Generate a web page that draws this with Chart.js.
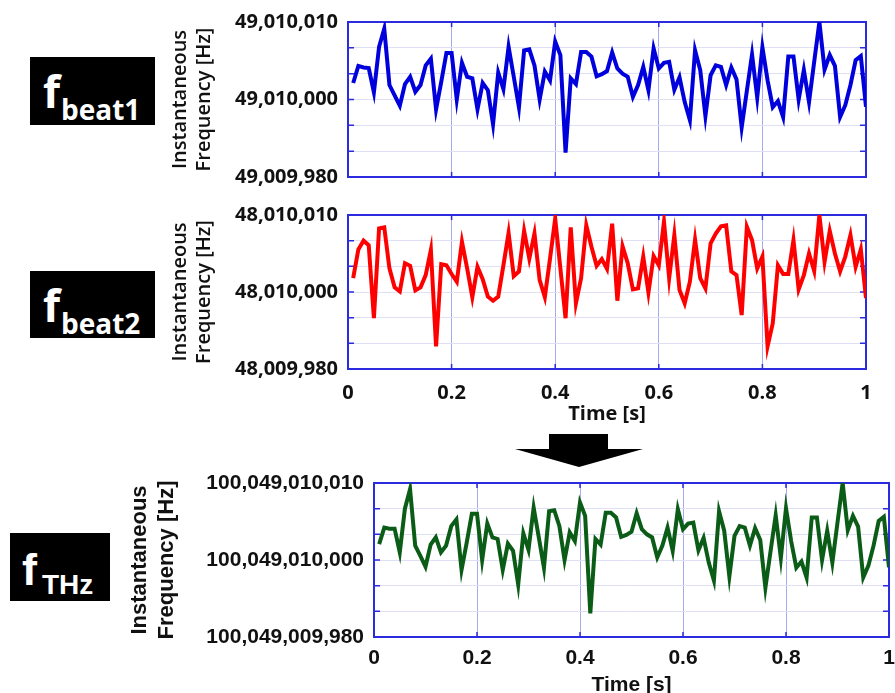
<!DOCTYPE html>
<html>
<head>
<meta charset="utf-8">
<script src="https://cdn.jsdelivr.net/npm/chart.js@4.4.1/dist/chart.umd.min.js"></script>
<style>
  body { margin: 0; width: 895px; height: 693px; background: #fff; position: relative; overflow: hidden; }
  canvas { position: absolute; }
  .tag { position: absolute; background: #000; color: #fff; font-weight: 700; }
  .tag span { position: absolute; line-height: 1; white-space: nowrap; }
  .calibri { font-family: "Open Sans", sans-serif; }
  .arial { font-family: "Liberation Sans", Arial, sans-serif; }
  #arrowBody { position: absolute; left: 549px; top: 434px; width: 59px; height: 16px; background: #000; }
  #arrowHead { position: absolute; left: 515px; top: 449px; width: 0; height: 0;
    border-left: 64px solid transparent; border-right: 64px solid transparent; border-top: 18px solid #000; }
</style>
</head>
<body>

<div class="tag calibri" style="left:30px;top:57px;width:125px;height:68px">
  <span style="left:13px;top:12px;font-size:44px">f</span>
  <span style="left:31px;top:38px;font-size:28px">beat1</span>
</div>
<div class="tag calibri" style="left:30px;top:271px;width:125px;height:67px">
  <span style="left:13px;top:12px;font-size:44px">f</span>
  <span style="left:31px;top:38px;font-size:28px">beat2</span>
</div>
<div class="tag arial" style="left:10px;top:533px;width:100px;height:68px">
  <span style="left:12px;top:14px;font-size:45px">f</span>
  <span style="left:32px;top:38px;font-size:28px">THz</span>
</div>

<div id="arrowBody"></div>
<div id="arrowHead"></div>

<canvas id="beat1" width="745" height="192" style="left:150px;top:0px"></canvas>
<canvas id="beat2" width="745" height="234" style="left:150px;top:192px"></canvas>
<canvas id="thz" width="775" height="230" style="left:120px;top:468px"></canvas>

<script>
// offsets from the centre line, 5 per grid step, one sample every 10 ms
const beat1Offset = [
  3.2, 6.5, 6.2, 6.1, 1.4, 10.2, 13.7, 2.8, 0.8, -1.2,
  3.0, 4.4, 1.5, 2.8, 6.6, 7.9, -1.9, 3.4, 9.0, 9.0,
  0.0, 7.1, 4.4, 4.1, -1.9, 3.2, 1.8, -4.8, 5.2, 2.0,
  10.2, 4.4, -1.5, 9.5, 9.7, 6.6, 0.0, 5.4, 3.7, 11.2,
  8.6, -10.3, 4.1, 3.0, 9.2, 9.2, 8.3, 4.5, 4.9, 5.5,
  9.1, 6.0, 5.0, 4.4, 0.5, 2.8, 6.3, 1.8, 9.9, 6.0,
  7.1, 7.3, 1.9, 4.3, -0.5, -4.0, 9.5, 5.7, -3.2, 4.7,
  6.6, 6.3, 2.8, 6.2, 3.9, -5.4, 1.7, 8.7, 0.4, 10.1,
  3.7, -1.5, -0.3, -3.4, 8.3, 8.3, 0.0, 5.7, -0.5, 7.3,
  15.0, 5.8, 8.6, 6.5, -3.4, -1.1, 2.8, 7.6, 8.4, -1.4
];
const beat2Offset = [
  2.7, 8.3, 10.0, 9.1, -5.1, 12.4, 12.6, 4.6, 0.9, 0.1,
  5.6, 5.1, 0.3, 0.9, 3.3, 8.2, -10.6, 5.4, 5.2, 3.5,
  2.0, 9.8, 4.6, -1.0, 4.9, 2.5, -0.9, -1.7, -0.9, 5.2,
  11.5, 3.1, 4.0, 11.9, 6.5, 11.4, 2.3, -1.0, 6.5, 14.3,
  4.6, -5.1, 12.6, -2.2, 2.7, 13.0, 8.8, 5.1, 6.4, 4.5,
  13.3, -1.7, 8.9, 5.6, 0.5, 0.7, 6.9, -0.1, 7.0, 5.2,
  13.7, 2.7, 11.1, 0.4, -2.2, 2.0, 10.2, 2.7, 0.7, 9.5,
  11.4, 12.8, 13.0, 4.0, 3.3, -4.5, 12.7, 10.1, 4.6, 6.9,
  -10.6, -6.1, 5.2, 3.5, 3.5, 10.1, 0.5, 3.3, 7.5, 4.1,
  15.0, 5.9, 11.9, 7.5, 4.0, 6.9, 11.1, 4.9, 8.3, -1.2
];
const thzOffset = [
  3.1, 6.3, 6.1, 6.1, 1.5, 10.0, 13.8, 2.8, 0.8, -1.3,
  3.0, 4.4, 1.5, 2.8, 6.6, 7.9, -1.9, 3.4, 9.0, 9.0,
  0.0, 7.1, 4.4, 4.1, -1.9, 3.2, 1.8, -4.8, 5.2, 2.0,
  10.2, 4.4, -1.5, 9.5, 9.7, 6.6, 0.0, 5.4, 3.7, 11.2,
  8.6, -10.4, 4.1, 3.0, 9.2, 9.2, 8.3, 4.5, 4.9, 5.5,
  9.1, 6.0, 5.0, 4.4, 0.5, 2.8, 6.3, 1.8, 9.9, 6.0,
  7.1, 7.3, 1.9, 4.3, -0.5, -4.0, 9.5, 5.7, -3.2, 4.7,
  6.6, 6.3, 2.8, 6.2, 3.9, -5.4, 1.7, 8.7, 0.4, 10.1,
  3.7, -1.5, -0.3, -3.4, 8.3, 8.3, 0.0, 5.7, -0.5, 7.3,
  15.0, 5.8, 8.6, 6.5, -3.4, -1.1, 2.8, 7.6, 8.4, -1.4
];
const sampleStep = 0.01;

// tick labels
const xTickLabels = ['0', '0.2', '0.4', '0.6', '0.8', '1'];
const yLabelAt = [15, 0, -15];
const beat1Labels = ['49,010,010', '49,010,000', '49,009,980'];
const beat2Labels = ['48,010,010', '48,010,000', '48,009,980'];
const thzLabels = ['100,049,010,010', '100,049,010,000', '100,049,009,980'];

const frame = {
  id: 'frame',
  beforeDatasetsDraw(chart) {
    const { ctx, chartArea: a, scales: { x, y } } = chart;
    ctx.save();
    ctx.strokeStyle = '#2b2be0';
    ctx.lineWidth = 2;
    ctx.strokeRect(a.left, a.top, a.right - a.left, a.bottom - a.top);
    ctx.lineWidth = 1.5;
    ctx.beginPath();
    x.ticks.forEach(t => {
      const px = x.getPixelForValue(t.value);
      ctx.moveTo(px, a.bottom); ctx.lineTo(px, a.bottom - 5);
      ctx.moveTo(px, a.top); ctx.lineTo(px, a.top + 5);
    });
    y.ticks.forEach(t => {
      const py = y.getPixelForValue(t.value);
      ctx.moveTo(a.left, py); ctx.lineTo(a.left + 6, py);
      ctx.moveTo(a.right, py); ctx.lineTo(a.right - 6, py);
    });
    ctx.stroke();
    ctx.restore();
  }
};

function makeChart(id, values, color, labels, o) {
  const pts = values.map((v, i) => ({ x: (i + 1) * sampleStep, y: v }));
  return new Chart(document.getElementById(id), {
    type: 'line',
    data: { datasets: [{ data: pts, borderColor: color, borderWidth: 4, pointRadius: 0, tension: 0, fill: false }] },
    plugins: [frame],
    options: {
      responsive: false,
      animation: false,
      layout: { padding: o.padding },
      plugins: { legend: { display: false }, tooltip: { enabled: false } },
      scales: {
        x: {
          type: 'linear', min: 0, max: 1,
          afterFit: s => { s.height = o.xHeight; s.paddingLeft = 0; s.paddingRight = 0; },
          ticks: { stepSize: 0.2, display: o.xLabels, padding: o.xPad, color: '#111',
                   font: { family: o.family, size: o.tickSize, weight: 'bold' },
                   callback: (v, i) => xTickLabels[i] },
          grid: { color: '#a9a9f0', drawTicks: false },
          border: { display: false },
          title: { display: o.xLabels, text: 'Time [s]', color: '#111', padding: 0,
                   font: { family: o.family, size: o.tickSize, weight: 'bold' } }
        },
        y: {
          min: -15, max: 15,
          afterFit: s => { s.width = o.yWidth; s.paddingTop = 0; s.paddingBottom = 0; },
          ticks: {
            stepSize: 5, autoSkip: false, padding: 10, color: '#111',
            font: { family: o.family, size: o.tickSize, weight: 'bold' },
            callback: v => { const k = yLabelAt.indexOf(v); return k < 0 ? '' : labels[k]; }
          },
          grid: { color: '#dfdff6', drawTicks: false },
          border: { display: false },
          title: {
            display: true, text: ['Instantaneous', 'Frequency [Hz]'], color: '#111',
            padding: { top: o.titleTop, bottom: 0 },
            font: { family: o.family, size: o.titleSize, weight: o.titleWeight, lineHeight: o.titleLh }
          }
        }
      }
    }
  });
}

makeChart('beat1', beat1Offset, '#0000dc', beat1Labels, {
  padding: { top: 22, right: 29, bottom: 15, left: 0 }, xHeight: 0, xLabels: false, xPad: 0,
  yWidth: 198, family: 'Open Sans', tickSize: 20, titleSize: 20, titleWeight: '600', titleLh: 1.2, titleTop: 18
});
makeChart('beat2', beat2Offset, '#ff0000', beat2Labels, {
  padding: { top: 23, right: 29, bottom: 0, left: 0 }, xHeight: 57, xLabels: true, xPad: 12,
  yWidth: 198, family: 'Open Sans', tickSize: 20, titleSize: 20, titleWeight: '600', titleLh: 1.2, titleTop: 18
});
makeChart('thz', thzOffset, '#0b5c17', thzLabels, {
  padding: { top: 15, right: 6, bottom: 0, left: 0 }, xHeight: 61, xLabels: true, xPad: 9,
  yWidth: 254, family: 'Liberation Sans', tickSize: 21, titleSize: 22, titleWeight: 'bold', titleLh: 1.25, titleTop: 6
});
</script>
</body>
</html>
